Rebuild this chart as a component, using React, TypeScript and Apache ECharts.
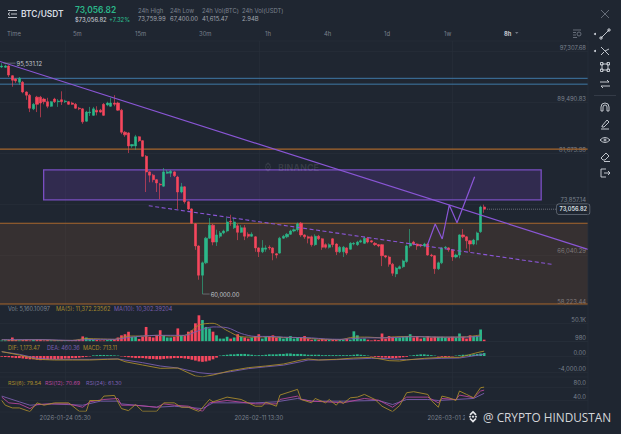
import React, { useEffect, useRef } from "react";
import * as echarts from "echarts";

const tickLabels: Record<number, string> = { 18: "2026-01-24 05:30", 73: "2026-02-11 13:30", 128: "2026-03-01 21:30" };
const slotCount = 167;
const priceTicks = [97307.68, 89490.83, 81673.98, 73857.14, 66040.29, 58223.44];

// [open, close, low, high] in thousands of USDT
const candles = [
[94.94,95.09,94.8,95.53],[94.9,95.1,94.8,95.3],[95.1,93.7,93.4,95.2],[93.6,92.9,91.9,93.7],[93.1,92.8,92.5,93.2],[92.6,93.2,92.2,93.4],[92.6,91.1,90.9,92.8],[91.1,90.6,89.9,91.2],[90.6,88.6,88.0,90.8],[88.5,89.2,88.3,89.4],
[90.3,89.2,88.0,90.5],[90.3,89.4,87.2,90.5],[90.0,89.6,89.2,90.2],[89.6,88.9,88.6,90.2],[88.9,89.6,88.8,89.7],[90.0,89.6,89.4,90.2],[89.6,89.7,88.8,90.0],[89.9,89.6,89.1,91.2],[89.6,89.7,89.4,89.9],[89.6,89.2,89.1,89.7],
[89.4,89.2,89.1,89.6],[89.2,88.6,88.5,89.4],[88.6,88.5,88.3,88.8],[88.5,86.5,86.2,88.6],[86.6,88.0,86.5,88.2],[87.9,88.0,87.4,88.8],[87.5,88.5,87.4,88.8],[88.3,88.0,87.5,88.9],[88.3,88.0,87.9,88.5],[89.2,87.5,87.4,89.4],
[89.1,89.4,88.9,89.6],[88.9,89.4,88.8,90.2],[89.4,89.2,88.9,90.6],[89.4,88.3,88.2,89.6],[88.3,84.9,84.6,88.5],[84.9,84.5,84.2,85.1],[84.8,82.8,81.7,84.9],[82.8,83.0,82.5,83.1],[82.8,84.2,82.2,84.5],[84.2,83.6,83.4,84.3],
[83.6,81.2,81.1,83.7],[81.2,78.8,75.7,81.4],[78.8,78.3,77.2,78.9],[78.3,77.6,77.2,78.5],[77.6,77.1,75.7,77.7],[76.9,76.8,74.6,77.1],[76.6,78.8,76.5,79.4],[78.6,78.8,78.5,79.1],[78.6,78.9,78.0,79.1],[78.8,78.2,78.0,78.9],
[78.0,75.7,73.1,78.2],[75.7,76.5,75.5,77.1],[76.5,74.2,73.9,76.6],[74.2,73.1,72.9,74.3],[73.1,70.9,70.8,73.2],[70.8,67.4,66.8,70.9],[67.4,62.9,62.2,67.5],[62.9,64.8,60.0,65.0],[64.8,68.6,64.6,68.8],[68.6,70.6,68.5,71.7],
[70.6,68.0,67.5,70.8],[68.0,69.1,67.4,69.9],[68.9,69.4,68.6,69.7],[69.4,69.7,69.2,69.9],[69.7,71.1,69.5,71.7],[71.2,71.1,70.5,72.2],[70.2,71.1,70.0,71.7],[70.5,69.5,68.3,70.8],[69.5,70.2,69.4,70.6],[70.2,68.9,68.3,70.6],
[69.2,68.9,68.6,69.5],[68.9,69.2,68.8,69.5],[68.8,67.1,66.5,68.9],[67.1,66.5,65.7,67.2],[66.5,67.1,66.3,68.3],[66.9,67.1,66.5,67.5],[67.2,67.1,66.8,67.5],[67.1,66.3,65.2,67.2],[66.2,66.0,65.5,66.3],[66.3,68.6,66.2,68.8],
[68.6,68.9,68.5,69.1],[68.8,69.2,68.6,69.4],[69.2,69.7,69.1,69.9],[69.7,69.9,69.5,70.1],[69.9,70.8,69.6,71.0],[70.9,69.1,68.8,71.1],[69.1,68.8,68.5,69.2],[68.8,68.6,67.8,69.0],[68.8,67.6,67.3,69.0],[67.6,68.9,67.4,69.2],
[68.9,68.5,68.3,69.1],[68.5,67.2,66.8,68.6],[67.6,67.2,67.0,67.8],[67.2,67.6,67.0,67.8],[68.5,67.6,67.2,68.6],[67.7,66.5,66.0,67.8],[66.5,67.2,66.3,67.4],[66.5,67.2,65.7,67.4],[67.1,66.3,66.0,67.2],[66.9,67.8,66.8,68.0],
[67.7,67.8,67.5,68.0],[67.6,68.0,67.4,68.2],[68.0,68.2,67.9,68.4],[67.8,68.6,67.7,68.8],[68.6,68.0,67.8,68.8],[68.2,68.0,67.9,68.3],[67.8,67.6,67.4,68.0],[67.6,67.4,67.2,67.7],[67.6,65.9,64.3,67.7],[65.9,65.7,65.5,66.0],
[65.7,64.6,64.2,65.9],[64.6,63.2,62.8,64.8],[63.1,64.0,62.6,64.2],[63.9,64.2,63.8,64.4],[64.2,65.1,64.0,65.3],[65.0,67.4,64.8,67.6],[67.4,67.8,67.1,70.0],[68.0,67.7,67.5,68.2],[67.7,67.4,66.8,67.8],[67.6,67.4,67.2,67.7],
[67.4,67.7,67.2,67.9],[67.7,66.0,65.9,67.8],[66.0,65.9,65.7,66.2],[65.9,63.9,63.1,66.0],[63.9,64.8,63.7,65.0],[64.8,67.1,64.6,67.2],[67.1,67.2,66.9,67.4],[67.1,66.8,66.5,67.2],[66.8,65.7,65.1,66.9],[65.7,66.0,65.5,66.2],
[66.0,69.1,65.5,69.2],[69.1,68.8,68.6,70.0],[68.8,68.2,67.0,68.9],[68.2,67.7,66.5,68.3],[67.7,68.3,67.5,68.5],[68.3,69.4,67.6,69.6],[69.6,73.4,69.4,73.6],[73.4,73.057,72.5,73.76],
];

// volume per candle, thousands
const volumes = [3,3,4,11,4,3,4,5,3,4,6,5,3,4,3,3,3,3,2,2,3,4,5,14,11,7,6,4,3,3,4,6,6,11,17,20,27,13,13,7,13,40,13,11,17,31,17,11,11,13,36,17,15,27,31,50,72,59,40,36,27,17,8,8,13,8,11,20,13,11,8,11,15,20,8,13,15,17,11,13,8,11,15,8,11,11,15,8,5,6,5,7,6,5,5,5,6,5,7,5,28,17,7,8,5,3,5,4,22,8,15,13,11,11,13,15,20,11,15,8,11,15,11,13,13,13,11,11,13,11,22,13,8,17,15,15,33,5];
const ma5 = [[0,5],[4,4],[8,5],[12,5],[16,3],[20,3],[24,8],[28,7],[32,6],[36,15],[40,15],[44,17],[48,15],[52,17],[56,45],[60,50],[64,30],[68,13],[72,12],[76,13],[80,11],[84,11],[88,8],[92,6],[96,5],[100,12],[104,12],[108,10],[112,13],[116,14],[120,13],[124,12],[128,12],[132,13],[136,18]];
const ma10 = [[0,5],[4,5],[8,5],[12,5],[16,4],[20,3],[24,5],[28,6],[32,6],[36,11],[40,15],[44,17],[48,17],[52,17],[56,30],[60,40],[64,38],[68,22],[72,14],[76,14],[80,12],[84,11],[88,10],[92,7],[96,6],[100,8],[104,10],[108,10],[112,11],[116,13],[120,13],[124,12],[128,12],[132,12],[136,15]];

const macd = [-200,-250,-300,-400,-500,-500,-600,-700,-800,-800,-900,-1000,-900,-900,-800,-800,-700,-700,-600,-600,-500,-500,-400,-300,-200,-100,150,200,250,250,200,200,150,100,-100,-200,-300,-400,-500,-500,-500,-600,-700,-700,-800,-800,-700,-600,-600,-500,-500,-500,-600,-700,-900,-1100,-1300,-1400,-1300,-1100,-800,-400,100,200,300,400,400,500,500,500,400,300,200,200,200,300,400,400,400,500,500,600,600,500,500,500,400,300,300,300,300,200,200,200,200,200,200,200,200,200,300,400,300,200,100,-100,-200,-300,-400,-400,-500,-500,-500,-400,-300,-200,100,200,300,400,400,300,200,100,-100,-200,-300,-200,-100,100,200,300,300,300,400,500,600,713];
const dif = [[0,1040],[5,240],[10,-800],[15,-960],[20,-960],[25,-960],[30,-800],[33,-720],[35,-1360],[40,-2160],[45,-2960],[50,-2880],[55,-4800],[57,-5000],[60,-4560],[65,-3520],[70,-2800],[75,-2400],[80,-1920],[85,-960],[87,-720],[90,-960],[95,-800],[100,-480],[105,-320],[110,-1120],[113,-1200],[115,-960],[120,-560],[125,-320],[130,-320],[135,800],[137,1173]];
const dea = [[0,1040],[5,400],[10,-560],[15,-800],[20,-800],[25,-800],[30,-720],[33,-720],[40,-1600],[45,-2400],[50,-2880],[56,-4000],[60,-4320],[65,-3760],[70,-3040],[75,-2600],[80,-2200],[85,-1360],[87,-960],[90,-960],[95,-880],[100,-720],[105,-560],[110,-640],[113,-800],[115,-880],[120,-720],[125,-560],[130,-480],[135,160],[137,460]];

const rsi6 = [[0,40],[1,26],[3,18],[5,18],[8,7],[10,33],[12,26],[15,33],[19,33],[22,8],[24,8],[25,40],[28,40],[29,53],[32,55],[34,16],[36,10],[38,28],[40,8],[44,8],[46,33],[49,33],[51,20],[53,20],[56,7],[59,43],[60,36],[64,50],[68,43],[72,23],[74,23],[75,35],[78,23],[79,56],[84,73],[85,43],[88,33],[89,46],[92,33],[93,43],[95,26],[96,38],[97,31],[99,48],[101,50],[103,58],[106,43],[108,23],[111,7],[113,25],[115,63],[117,66],[121,58],[122,40],[124,20],[125,53],[127,48],[129,40],[130,68],[132,58],[134,48],[136,78],[137,79.54]];
const rsi12 = [[0,50],[2,33],[5,30],[8,16],[10,28],[14,30],[19,30],[23,20],[25,36],[29,43],[33,46],[34,26],[38,26],[44,20],[46,30],[49,26],[53,23],[57,8],[59,33],[64,40],[72,30],[78,30],[79,43],[84,53],[85,43],[88,38],[92,36],[97,33],[103,46],[107,41],[111,20],[115,50],[121,50],[124,33],[125,46],[129,43],[130,56],[134,48],[136,68],[137,70.69]];
const rsi24 = [[0,53],[5,36],[8,26],[14,30],[23,26],[28,38],[33,38],[34,30],[44,20],[49,23],[57,16],[60,33],[72,33],[78,36],[84,46],[88,38],[97,38],[107,40],[111,28],[115,43],[121,43],[124,40],[129,43],[134,46],[137,61.3]];

// analysis drawn on the price pane: [candle position, USDT]
const trendLine = [[-0.5,95790],[166.5,66880]];
const dashedTrend = [[41.75,73590],[156.3,64570]];
const projection = [[120.9,67550],[123.1,70780],[125.1,68470],[127.1,73700],[129.3,70980],[134.3,78050]];
const blueLevels = [93200,92300];
const orangeLevels = [82300,70900,58470];
const supplyBox = [[11.9,79100],[153.2,74500]];
const demandZone = [[-0.5,70900],[166.5,58470]];
const lastPrice = 73056.82;

const UP = "#2bb88a", DOWN = "#f6465d", PURPLE = "#8a56d6";
const FONT = "Inter, Roboto, sans-serif";

const reg = (n: string, d: string) => echarts.graphic.registerShape(n, echarts.graphic.extendPath(d, {}) as any);
reg("iLine", "M1 9L9 1M0 8H2V10H0ZM8 0H10V2H8Z");
reg("iCross", "M1 1L5 5L9 3M1 9L4 6M5 5L9 9");
reg("iRect", "M2 2H8V8H2ZM0.5 0.5H3V3H0.5ZM7 0.5H9.5V3H7ZM0.5 7H3V9.5H0.5ZM7 7H9.5V9.5H7Z");
reg("iSwap", "M0 3H9M7 1L9 3M10 7H1M3 9L1 7");
reg("iMagnet", "M1 9V5A4 4 0 0 1 9 5V9H7V5A2 2 0 0 0 3 5V9Z");
reg("iPen", "M2 7L7 1L9 3L4 8L2 8ZM1 10H9");
reg("iEye", "M0 5Q5 0 10 5Q5 10 0 5ZM4 5A1 1 0 1 0 6 5A1 1 0 1 0 4 5Z");
reg("iEraser", "M1 6L6 1L9 4L5 8H3ZM4 9.5H10");
reg("iExit", "M6 1H1V9H6M4 5H10M8 3L10 5L8 7");
reg("iClose", "M0 0L8 8M8 0L0 8");
reg("iMenu", "M0 0H9M3 3.5H9M0 7H9M2 2L0 3.5L2 5");
reg("iGear", "M0 0H8M0 2.5H3M0 5H3M0 7.5H4M4 4A2 2 0 1 0 8 4A2 2 0 1 0 4 4Z");
reg("iBnb", "M0 -1.4L1.4 0L0 1.4L-1.4 0ZM-4.2 0L-3 -1.2L-1.8 0L-3 1.2ZM4.2 0L3 -1.2L1.8 0L3 1.2ZM0 -6L3.6 -2.4L2.4 -1.2L0 -3.6L-2.4 -1.2L-3.6 -2.4ZM0 6L3.6 2.4L2.4 1.2L0 3.6L-2.4 1.2L-3.6 2.4Z");

const txt = (x: number, y: number, text: string, fill: string, fontSize = 5.9, fontWeight: any = 400, extra: any = {}) => ({
  type: "text", x, y, z: 20, silent: true,
  style: { text, fill, fontSize, fontWeight, fontFamily: FONT, textVerticalAlign: "middle", ...extra },
});
const icon = (type: string, x: number, y: number, stroke = "#d3d7de") => ({
  type, x, y, z: 20, silent: true, style: { fill: "none", stroke, lineWidth: 0.9 },
});

const topLabels = [
  ["5m", 73], ["15m", 135], ["30m", 199], ["1h", 265], ["4h", 324], ["1d", 384], ["1w", 444],
] as [string, number][];
const stats = [
  ["24h High", "73,759.99", 138], ["24h Low", "67,400.00", 170], ["24h Vol(BTC)", "41,615.47", 202], ["24h Vol(USDT)", "2.94B", 242],
] as [string, string, number][];

const GRIDS = [
  { left: -1, width: 589, top: 41, height: 265 },
  { left: -1, width: 589, top: 306, height: 35.5 },
  { left: -1, width: 589, top: 341.5, height: 35.5 },
  { left: -1, width: 589, top: 377, height: 35 },
];

export default function App() {
  const ref = useRef<HTMLDivElement>(null);
  useEffect(() => {
    const chart = echarts.init(ref.current!, null, { renderer: "svg" });
    const categories = Array.from({ length: slotCount }, (_, i) => tickLabels[i] ?? String(i));
    const tickIdx = Object.keys(tickLabels).map(Number);
    const grid = "#272e3a";
    const axisText = "#7a818d";

    const lineS = (data: number[][], color: string, g: number, extra: any = {}) => ({
      type: "line", xAxisIndex: 4 + g, yAxisIndex: g, data, symbol: "none", showSymbol: false, silent: true, z: 5,
      lineStyle: { color, width: 0.9 }, ...extra,
    });
    const hline = (v: number, color: string, width: number) =>
      lineS([[-0.5, v], [166.5, v]], color, 0, { lineStyle: { color, width }, z: 2 });
    const area = (pts: number[][], itemStyle: any, z: number) =>
      lineS(pts, "transparent", 0, {
        z, lineStyle: { width: 0, opacity: 0 },
        markArea: { silent: true, z, data: [[{ coord: pts[0], itemStyle }, { coord: pts[1] }]] },
      });

    const xCat = GRIDS.map((_, i) => ({
      type: "category", gridIndex: i, data: categories, boundaryGap: true,
      axisLine: { show: false }, axisTick: { show: false }, splitLine: { show: false },
      axisLabel: i === 3
        ? { show: true, interval: (n: number) => tickIdx.includes(n), color: axisText, fontSize: 5.9, fontFamily: FONT, margin: 2.5 }
        : { show: false },
    }));
    const xVal = GRIDS.map((_, i) => ({
      type: "value", gridIndex: i, min: -0.5, max: 166.5,
      axisLine: { show: false }, axisLabel: { show: false },
      axisTick: { show: false, customValues: tickIdx },
      splitLine: { show: true, lineStyle: { color: grid, width: 0.7 } },
    }));
    const yAx = (i: number, min: number, max: number, vals: number[], fmt: (v: number) => string) => ({
      type: "value", gridIndex: i, position: "right", min, max, scale: true,
      axisLine: { show: false },
      axisTick: { show: false, customValues: vals },
      axisLabel: {
        inside: true, customValues: vals, formatter: fmt, color: axisText, fontSize: 5.9, fontFamily: FONT,
        margin: 2, verticalAlign: "bottom", padding: [0, 0, 1, 0],
      },
      splitLine: { show: true, lineStyle: { color: grid, width: 0.7 } },
    });

    chart.setOption({
      animation: false,
      backgroundColor: "#1f2631",
      grid: GRIDS,
      xAxis: [...xCat, ...xVal],
      yAxis: [
        yAx(0, 58159, 98943, priceTicks, (v) => v.toLocaleString("en-US", { minimumFractionDigits: 2, maximumFractionDigits: 2 })),
        yAx(1, 0, 97600, [980, 50100], (v) => (v === 980 ? "980" : "50.1K")),
        yAx(2, -5040, 3480, [0, -4000], (v) => (v === 0 ? "0.00" : "-4,000.00")),
        yAx(3, 5.9, 109.6, [40, 80], (v) => v.toFixed(1)),
      ],
      series: [
        area(demandZone, { color: "rgba(150,90,50,0.2)" }, 1),
        area(supplyBox, { color: "rgba(105,60,170,0.25)", borderColor: "#7a4fc2", borderWidth: 1.3 }, 1),
        ...blueLevels.map((v) => hline(v, "#3f78a6", 1)),
        ...orangeLevels.map((v) => hline(v, "#a8672c", 1.1)),
        {
          type: "candlestick", xAxisIndex: 0, yAxisIndex: 0, z: 3, barWidth: 2.6, silent: true,
          data: candles.map((c) => c.map((v) => v * 1000)),
          itemStyle: { color: UP, color0: DOWN, borderColor: UP, borderColor0: DOWN, borderWidth: 0.6 },
        },
        lineS(trendLine, PURPLE, 0, { z: 6, lineStyle: { color: PURPLE, width: 1.2 } }),
        lineS(dashedTrend, PURPLE, 0, { z: 6, lineStyle: { color: PURPLE, width: 1.1, type: [4, 2.5] } }),
        lineS(projection, PURPLE, 0, { z: 6, lineStyle: { color: PURPLE, width: 1.2 } }),
        lineS([[0.5, 95531.12], [3.9, 95531.12]], "#8b9099", 0, {
          z: 7, lineStyle: { color: "#8b9099", width: 0.6 },
          endLabel: { show: true, formatter: "95,531.12", color: "#c2c6cd", fontSize: 5.9, fontFamily: FONT, distance: 1 },
        }),
        lineS([[57, 60000], [59.04, 60000]], "#8b9099", 0, {
          z: 7, lineStyle: { color: "#8b9099", width: 0.6 },
          endLabel: { show: true, formatter: "60,000.00", color: "#c2c6cd", fontSize: 5.9, fontFamily: FONT, distance: 1 },
        }),
        lineS([[137.8, lastPrice], [157.7, lastPrice]], "#8b9099", 0, {
          z: 7, lineStyle: { color: "#8b9099", width: 0.7, type: [1, 1] },
          endLabel: {
            show: true, formatter: "73,056.82", color: "#dfe2e7", fontSize: 5.6, fontWeight: 600, fontFamily: FONT, distance: 0,
            backgroundColor: "#1f2631", borderColor: "#6d7480", borderWidth: 0.7, borderRadius: 2, padding: [2, 2.5],
          },
        }),
        {
          type: "bar", xAxisIndex: 1, yAxisIndex: 1, barWidth: 2.7, z: 3, silent: true,
          data: volumes.map((v, i) => ({ value: v * 1000, itemStyle: { color: candles[i][1] >= candles[i][0] ? UP : DOWN } })),
        },
        lineS(ma5.map(([i, v]) => [i, v * 1000]), "#a88a2c", 1, { smooth: 0.3 }),
        lineS(ma10.map(([i, v]) => [i, v * 1000]), "#7a5fb0", 1, { smooth: 0.3 }),
        {
          type: "bar", xAxisIndex: 2, yAxisIndex: 2, barWidth: 2.7, z: 3, silent: true,
          data: macd.map((v) => ({ value: v, itemStyle: { color: v >= 0 ? UP : DOWN } })),
        },
        lineS(dea, "#7a5fb0", 2),
        lineS(dif, "#a88a2c", 2),
        lineS(rsi24, "#7a5fb0", 3),
        lineS(rsi12, "#b8459c", 3),
        lineS(rsi6, "#a88a2c", 3),
      ],
      graphic: [
        { type: "line", z: 19, silent: true, shape: { x1: 0, y1: 41, x2: 588, y2: 41 }, style: { stroke: grid, lineWidth: 0.7 } },
        { type: "line", z: 19, silent: true, shape: { x1: 588, y1: 41, x2: 588, y2: 412 }, style: { stroke: grid, lineWidth: 0.8 } },
        { type: "line", z: 19, silent: true, shape: { x1: 0, y1: 341.5, x2: 588, y2: 341.5 }, style: { stroke: grid, lineWidth: 0.7 } },
        { type: "line", z: 19, silent: true, shape: { x1: 0, y1: 377, x2: 588, y2: 377 }, style: { stroke: grid, lineWidth: 0.7 } },
        { type: "line", z: 19, silent: true, shape: { x1: 0, y1: 412, x2: 588, y2: 412 }, style: { stroke: grid, lineWidth: 0.7 } },
        { type: "line", z: 19, silent: true, shape: { x1: 594, y1: 95.5, x2: 616, y2: 95.5 }, style: { stroke: "#3a414d", lineWidth: 0.8 } },

        icon("iMenu", 8, 10.5),
        txt(21, 14, "BTC/USDT", "#d8dce2", 8.4, 600),
        txt(75, 9.5, "73,056.82", UP, 8.4, 600),
        txt(75, 19, "$73,056.82", "#c3c7ce", 5.8, 500),
        txt(109, 19, "+7.32%", UP, 5.8, 500),
        ...stats.flatMap(([k, v, x]) => [txt(x, 10, k, "#7a818d"), txt(x, 18, v, "#a0a5ae")]),

        txt(7, 33, "Time", "#7a818d"),
        ...topLabels.map(([t, x]) => txt(x, 33, t, "#7a818d")),
        txt(504, 33, "8h", "#c3c7ce", 5.8, 700),
        { type: "polygon", z: 20, silent: true, shape: { points: [[515, 32], [518.5, 32], [516.7, 34]] }, style: { fill: "#6d7480" } },
        icon("iGear", 573, 30, "#6d7480"),

        icon("iClose", 601, 10, "#6d7480"),
        icon("iLine", 600, 29),
        icon("iCross", 600, 46),
        icon("iRect", 600, 62),
        icon("iSwap", 600, 79),
        icon("iMagnet", 600, 102),
        icon("iPen", 600, 119),
        icon("iEye", 600, 135),
        icon("iEraser", 600, 152),
        icon("iExit", 600, 168),
        { type: "circle", z: 20, silent: true, shape: { cx: 595, cy: 34, r: 1 }, style: { fill: "#d3d7de" } },
        { type: "circle", z: 20, silent: true, shape: { cx: 595, cy: 51, r: 1 }, style: { fill: "#d3d7de" } },

        txt(8, 309.3, "Vol: 5,160.10097", "#7d8490", 5.6),
        txt(56, 309.3, "MA(5): 11,372.23562", "#a88a2c", 5.6),
        txt(114, 309.3, "MA(10): 10,302.39204", "#7a5fb0", 5.6),
        txt(8, 347.5, "DIF: 1,173.47", "#a88a2c", 5.5),
        txt(47, 347.5, "DEA: 460.36", "#7a5fb0", 5.5),
        txt(83, 347.5, "MACD: 713.11", "#a88a2c", 5.5),
        txt(8, 382.7, "RSI(6): 79.54", "#a88a2c", 5.4),
        txt(45, 382.7, "RSI(12): 70.69", "#b8459c", 5.4),
        txt(86, 382.7, "RSI(24): 61.30", "#7a5fb0", 5.4),

        { type: "iBnb", x: 268, y: 167, z: 4, silent: true, style: { fill: "rgba(255,255,255,0.1)" }, scaleX: 0.8, scaleY: 0.8 },
        { type: "text", x: 278, y: 167, z: 4, silent: true, style: { text: "BINANCE", fill: "rgba(255,255,255,0.11)", fontSize: 9, fontWeight: 700, fontFamily: FONT, letterSpacing: 1, textVerticalAlign: "middle" } },

        { type: "rect", z: 21, silent: true, shape: { x: 465, y: 412.5, width: 18, height: 10 }, style: { fill: "#1f2631" } },
        { type: "iBnb", x: 473, y: 416.7, z: 22, silent: true, style: { fill: "#e6e8ec" } },
        { type: "text", x: 483, y: 417, z: 22, silent: true, style: { text: "@ CRYPTO HINDUSTAN", fill: "#d4d6da", fontSize: 11.8, fontFamily: "Open Sans, Noto Sans, sans-serif", textVerticalAlign: "middle" } },
      ],
    });
    return () => chart.dispose();
  }, []);
  return <div ref={ref} style={{ position: "fixed", left: 0, top: 0, width: 621, height: 434 }} />;
}
